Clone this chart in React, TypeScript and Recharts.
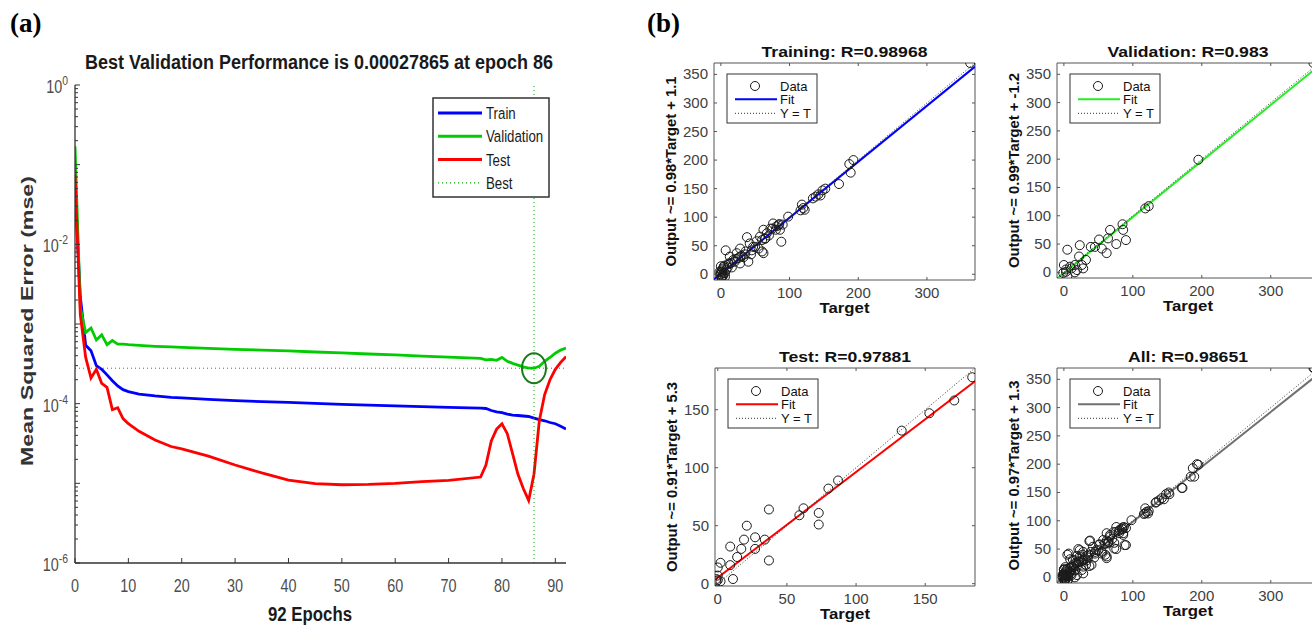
import React from 'react';
import {
  LineChart, Line, XAxis, YAxis, ReferenceLine, ReferenceDot,
  ScatterChart, Scatter, ReferenceArea,
} from 'recharts';

const SANS = "'Liberation Sans', Arial, Helvetica, sans-serif";
const SERIF = "'Liberation Serif', 'Times New Roman', serif";

// ---------------- (a) performance data ----------------
const EPOCHS = [0, 1, 2, 3, 4, 5, 6, 7, 8, 9, 10, 12, 15, 18, 20, 25, 30, 35, 40, 45, 50, 55, 60, 65, 70,
  76, 77, 78, 79, 80, 81, 82, 83, 84, 85, 86, 87, 88, 89, 90, 91, 92];
const TRAIN_MSE = [0.05, 2.2e-3, 5.4e-4, 4.6e-4, 3.0e-4, 2.7e-4, 2.3e-4, 1.94e-4, 1.67e-4, 1.5e-4, 1.42e-4,
  1.32e-4, 1.25e-4, 1.2e-4, 1.18e-4, 1.13e-4, 1.09e-4, 1.06e-4, 1.04e-4, 1.01e-4, 9.8e-5, 9.6e-5, 9.4e-5, 9.2e-5, 9.0e-5,
  8.8e-5, 8.7e-5, 8.2e-5, 7.9e-5, 7.7e-5, 7.4e-5, 7.2e-5, 7.1e-5, 7.0e-5, 6.9e-5, 6.6e-5, 6.3e-5, 6.1e-5, 5.8e-5, 5.6e-5, 5.2e-5, 4.8e-5];
const VALIDATION_MSE = [0.17, 1.6e-3, 7.8e-4, 8.9e-4, 6.3e-4, 7.3e-4, 5.5e-4, 6.2e-4, 5.6e-4, 5.6e-4, 5.5e-4,
  5.4e-4, 5.25e-4, 5.15e-4, 5.1e-4, 4.95e-4, 4.8e-4, 4.7e-4, 4.6e-4, 4.45e-4, 4.35e-4, 4.2e-4, 4.1e-4, 3.95e-4, 3.85e-4,
  3.7e-4, 3.55e-4, 3.6e-4, 3.5e-4, 3.8e-4, 3.4e-4, 3.2e-4, 3.05e-4, 2.9e-4, 2.8e-4, 2.7865e-4, 2.95e-4, 3.4e-4, 3.8e-4, 4.3e-4, 4.7e-4, 5.0e-4];
const TEST_MSE = [0.075, 1.3e-3, 3.8e-4, 2.1e-4, 2.7e-4, 1.8e-4, 1.6e-4, 8.4e-5, 8.9e-5, 6.5e-5, 5.6e-5,
  4.5e-5, 3.5e-5, 2.9e-5, 2.7e-5, 2.2e-5, 1.7e-5, 1.35e-5, 1.1e-5, 9.9e-6, 9.6e-6, 9.7e-6, 1.0e-5, 1.05e-5, 1.09e-5,
  1.2e-5, 1.7e-5, 3.4e-5, 4.8e-5, 5.6e-5, 4.2e-5, 2.35e-5, 1.3e-5, 8.6e-6, 6.1e-6, 1.3e-5, 6.1e-5, 1.3e-4, 2.0e-4, 2.7e-4, 3.3e-4, 3.9e-4];
const BEST_EPOCH = 86;
const BEST_PERF = 0.00027865;
const EPOCH_TICKS = [0, 10, 20, 30, 40, 50, 60, 70, 80, 90];
const MSE_LABEL_EXPONENTS = [-6, -4, -2, 0];

const perfData = EPOCHS.map((epoch, i) => ({
  epoch, train: TRAIN_MSE[i], validation: VALIDATION_MSE[i], test: TEST_MSE[i],
}));

const mseTicks: number[] = [];
for (let k = -6; k <= 0; k++) {
  mseTicks.push(Math.pow(10, k));
  if (k < 0) for (let m = 2; m <= 9; m++) mseTicks.push(m * Math.pow(10, k));
}

// ---------------- (b) regression data: [target, output] ----------------
const TRAINING_POINTS: [number, number][] = [
  [363, 370], [193, 200], [187, 193], [189, 178], [172, 158], [152, 150], [148, 147], [142, 140], [138, 136],
  [134, 133], [145, 138], [118, 122], [120, 116], [122, 113], [116, 112], [98, 101], [86, 78], [88, 57], [76, 89],
  [81, 84], [84, 86], [72, 80], [67, 72], [62, 78], [64, 62], [57, 66], [52, 58], [47, 48], [42, 54], [38, 65],
  [62, 37], [60, 40], [55, 45], [40, 22], [28, 31], [23, 37], [28, 19], [18, 25], [13, 31], [7, 42], [11, 19],
  [4, 13], [1, 7], [-1, -1], [1, -7], [6, 2], [0, 0], [2, 5], [3, 10], [5, 15], [1, -5], [4, 2], [8, 8], [10, 12],
  [12, 18], [15, 20], [20, 22], [25, 28], [30, 32], [35, 35], [45, 42], [50, 48], [60, 60], [65, 63], [70, 68],
  [75, 80], [80, 78], [85, 88], [90, 87], [33, 30], [36, 40], [44, 35], [28, 45], [22, 27], [16, 12], [3, -3],
  [0, 3], [2, -2], [-2, 4], [6, -4], [0, 14],
];
const VALIDATION_POINTS: [number, number][] = [
  [362, 370], [195, 199], [118, 113], [123, 117], [85, 85], [86, 75], [90, 57], [67, 75], [64, 60], [76, 50],
  [62, 34], [55, 42], [51, 58], [45, 45], [39, 45], [23, 48], [5, 40], [22, 28], [32, 22], [26, 13], [16, 0],
  [3, 1], [0, 13], [3, 5], [9, 10], [11, 7], [5, -7], [-1, -1], [16, 13], [19, 4], [28, 7],
];
const TEST_POINTS: [number, number][] = [
  [184, 178], [171, 158], [153, 147], [133, 132], [87, 89], [80, 82], [62, 65], [59, 59], [73, 61], [73, 51],
  [37, 64], [37, 20], [34, 38], [27, 40], [27, 30], [21, 50], [19, 38], [17, 30], [14, 23], [9, 32], [9, 16],
  [11, 4], [2, 18], [0, 14], [0, 7], [-1, 2], [0, 3], [2, 2], [-1, 4],
];
const ALL_POINTS: [number, number][] = [...TRAINING_POINTS, ...VALIDATION_POINTS, ...TEST_POINTS];

const TICKS_0_300 = [0, 100, 200, 300];
const TICKS_0_350 = [0, 50, 100, 150, 200, 250, 300, 350];
const TICKS_0_150 = [0, 50, 100, 150];

type Panel = {
  title: string; titleW: number; ylabel: string; left: number; top: number; w: number; h: number;
  lo: number; hi: number; xTicks: number[]; yTicks: number[]; slope: number; intercept: number;
  color: string; points: [number, number][];
};

const PANELS: Panel[] = [
  { title: 'Training: R=0.98968', titleW: 166, ylabel: 'Output ~= 0.98*Target + 1.1', left: 714, top: 63, w: 261, h: 217,
    lo: -10, hi: 370, xTicks: TICKS_0_300, yTicks: TICKS_0_350, slope: 0.98, intercept: 1.1, color: '#0000ff', points: TRAINING_POINTS },
  { title: 'Validation: R=0.983', titleW: 161, ylabel: 'Output ~= 0.99*Target + -1.2', left: 1057, top: 63, w: 262, h: 215,
    lo: -10, hi: 370, xTicks: TICKS_0_300, yTicks: TICKS_0_350, slope: 0.99, intercept: -1.2, color: '#22ee22', points: VALIDATION_POINTS },
  { title: 'Test: R=0.97881', titleW: 132, ylabel: 'Output ~= 0.91*Target + 5.3', left: 715, top: 368, w: 260, h: 218,
    lo: -2, hi: 186, xTicks: TICKS_0_150, yTicks: TICKS_0_150, slope: 0.91, intercept: 5.3, color: '#ff0000', points: TEST_POINTS },
  { title: 'All: R=0.98651', titleW: 120, ylabel: 'Output ~= 0.97*Target + 1.3', left: 1057, top: 368, w: 262, h: 215,
    lo: -10, hi: 370, xTicks: TICKS_0_300, yTicks: TICKS_0_350, slope: 0.97, intercept: 1.3, color: '#707070', points: ALL_POINTS },
];

// ---------------- (a) ticks ----------------
const ATickX = (props: any) => {
  const { x, y, payload } = props;
  return (
    <g>
      <line x1={x} y1={y} x2={x} y2={y - 5} stroke="#333" strokeWidth={1} />
      <text transform={`translate(${x},${y + 29}) scale(0.8,1)`} textAnchor="middle" fontSize={18}
        fill="#4d4d4d" fontFamily={SANS}>{payload.value}</text>
    </g>
  );
};

const ATickY = (props: any) => {
  const { x, y, payload } = props;
  const e = Math.log10(payload.value);
  const decade = Math.abs(e - Math.round(e)) < 1e-6;
  const exp = Math.round(e);
  const labelled = decade && MSE_LABEL_EXPONENTS.includes(exp);
  return (
    <g>
      <line x1={x} y1={y} x2={x + (decade ? 5 : 3)} y2={y} stroke="#333" strokeWidth={1} />
      {labelled && (
        <text transform={`translate(${x - 7},${y + 8}) scale(0.8,1)`} textAnchor="end" fontSize={18}
          fill="#4d4d4d" fontFamily={SANS}>10<tspan dy={-8} fontSize={13}>{exp}</tspan></text>
      )}
    </g>
  );
};

const BestCircle = (p: any) => (
  <ellipse cx={p.cx} cy={p.cy} rx={12} ry={15} fill="none" stroke="#1b7a1b" strokeWidth={2} />
);

const DataCircle = (p: any) => (
  <circle cx={p.cx} cy={p.cy} r={4.5} fill="none" stroke="#1a1a1a" strokeWidth={1} />
);

function RegPlot({ panel }: { panel: Panel }) {
  const { left, top, w, h, lo, hi, xTicks, yTicks, points, slope, intercept, color } = panel;
  const ML = 50, MT = 10;
  const data = points.map(([x, y]) => ({ x, y }));
  const XT = (p: any) => {
    const { x, y, payload } = p;
    return (
      <g>
        <line x1={x} y1={y} x2={x} y2={y - 3} stroke="#555" />
        <line x1={x} y1={y - h} x2={x} y2={y - h + 3} stroke="#555" />
        <text x={x} y={y + 18} textAnchor="middle" fontSize={15} fill="#404040" fontFamily={SANS}>{payload.value}</text>
      </g>
    );
  };
  const YT = (p: any) => {
    const { x, y, payload } = p;
    return (
      <g>
        <line x1={x} y1={y} x2={x + 3} y2={y} stroke="#555" />
        <line x1={x + w} y1={y} x2={x + w - 3} y2={y} stroke="#555" />
        <text x={x - 6} y={y + 5} textAnchor="end" fontSize={15} fill="#404040" fontFamily={SANS}>{payload.value}</text>
      </g>
    );
  };
  return (
    <div style={{ position: 'absolute', left: left - ML, top: top - MT }}>
      <ScatterChart width={w + ML + 10} height={h + MT + 40} margin={{ top: MT, right: 10, bottom: 10, left: 20 }}>
        <XAxis type="number" dataKey="x" domain={[lo, hi]} ticks={xTicks} tick={XT} tickLine={false}
          axisLine={false} tickSize={0} tickMargin={0} height={30} interval={0} allowDataOverflow />
        <YAxis type="number" dataKey="y" domain={[lo, hi]} ticks={yTicks} tick={YT} tickLine={false}
          axisLine={false} tickSize={0} tickMargin={0} width={30} interval={0} allowDataOverflow />
        <ReferenceArea x1={lo} x2={hi} y1={lo} y2={hi} fill="none" fillOpacity={0} stroke="#555" strokeWidth={1} ifOverflow="visible" />
        <Scatter data={data} shape={DataCircle} isAnimationActive={false} />
        <ReferenceLine segment={[{ x: lo, y: slope * lo + intercept }, { x: hi, y: slope * hi + intercept }]}
          stroke={color} strokeWidth={2} ifOverflow="hidden" />
        <ReferenceLine segment={[{ x: lo, y: lo }, { x: hi, y: hi }]} stroke="#333" strokeWidth={1}
          strokeDasharray="1 2" ifOverflow="hidden" />
      </ScatterChart>
    </div>
  );
}

const A_LEGEND = [
  { label: 'Train', color: '#0000ff', dotted: false },
  { label: 'Validation', color: '#00cc00', dotted: false },
  { label: 'Test', color: '#ff0000', dotted: false },
  { label: 'Best', color: '#00aa00', dotted: true },
];

export default function App() {
  return (
    <div style={{ position: 'fixed', left: 0, top: 0, width: 1312, height: 626, overflow: 'hidden', background: '#fff' }}>
      <div style={{ position: 'absolute', left: 0, top: 0 }}>
        <LineChart width={640} height={626} data={perfData} margin={{ top: 85, right: 74, bottom: 33, left: 45 }}>
          <XAxis type="number" dataKey="epoch" domain={[0, 92]} ticks={EPOCH_TICKS} tick={ATickX} tickLine={false}
            tickSize={0} tickMargin={0} height={30} interval={0} axisLine={{ stroke: '#333', strokeWidth: 1.3 }} allowDataOverflow />
          <YAxis type="number" scale="log" domain={[1e-6, 1]} ticks={mseTicks} tick={ATickY} tickLine={false}
            tickSize={0} tickMargin={0} width={30} interval={0} axisLine={{ stroke: '#333', strokeWidth: 1.3 }} allowDataOverflow />
          <Line type="linear" dataKey="train" stroke="#0000ff" strokeWidth={2.8} dot={false} isAnimationActive={false} />
          <Line type="linear" dataKey="validation" stroke="#00cc00" strokeWidth={2.8} dot={false} isAnimationActive={false} />
          <Line type="linear" dataKey="test" stroke="#ff0000" strokeWidth={2.8} dot={false} isAnimationActive={false} />
          <ReferenceLine x={BEST_EPOCH} stroke="#00aa00" strokeWidth={1} strokeDasharray="1 3" />
          <ReferenceLine y={BEST_PERF} stroke="#00aa00" strokeWidth={1} strokeDasharray="1 3" />
          <ReferenceDot x={BEST_EPOCH} y={BEST_PERF} r={12} shape={BestCircle} ifOverflow="visible" />
        </LineChart>
      </div>

      {PANELS.map((p) => <RegPlot key={p.title} panel={p} />)}

      <svg width={1312} height={626} style={{ position: 'absolute', left: 0, top: 0, pointerEvents: 'none' }}>
        <text x={10} y={32} fontFamily={SERIF} fontWeight="bold" fontSize={27} fill="#000">(a)</text>
        <text x={647} y={32} fontFamily={SERIF} fontWeight="bold" fontSize={27} fill="#000">(b)</text>

        <text x={319} y={69} textAnchor="middle" fontFamily={SANS} fontWeight="bold" fontSize={20} fill="#1a1a1a"
          textLength={468} lengthAdjust="spacingAndGlyphs">Best Validation Performance is 0.00027865 at epoch 86</text>
        <text transform="translate(33,321) scale(0.8,1) rotate(-90)" textAnchor="middle" fontFamily={SANS}
          fontWeight="bold" fontSize={21} fill="#333" textLength={290} lengthAdjust="spacingAndGlyphs">Mean Squared Error  (mse)</text>
        <text transform="translate(310,621) scale(0.8,1)" textAnchor="middle" fontFamily={SANS} fontWeight="bold"
          fontSize={21} fill="#1a1a1a">92 Epochs</text>

        <rect x={433} y={98} width={116} height={99} fill="#fff" stroke="#333" strokeWidth={1.5} />
        {A_LEGEND.map((r, i) => {
          const y = 113 + i * 23.3;
          return (
            <g key={r.label}>
              <line x1={438} y1={y} x2={482} y2={y} stroke={r.color} strokeWidth={r.dotted ? 1.2 : 3}
                strokeDasharray={r.dotted ? '1 3' : undefined} />
              <text transform={`translate(486,${y + 6}) scale(0.78,1)`} fontFamily={SANS} fontSize={17} fill="#1a1a1a">{r.label}</text>
            </g>
          );
        })}

        {PANELS.map((p) => {
          const cx = p.left + p.w / 2;
          const cy = p.top + p.h / 2;
          const lx = p.left + 13;
          const ly = p.top + 11;
          return (
            <g key={p.title}>
              <text x={cx} y={p.top - 6} textAnchor="middle" fontFamily={SANS} fontWeight="bold" fontSize={15.5} fill="#111"
                textLength={p.titleW} lengthAdjust="spacingAndGlyphs">{p.title}</text>
              <text transform={`translate(${p.left - 38},${cy}) rotate(-90)`} textAnchor="middle" fontFamily={SANS}
                fontWeight="bold" fontSize={14.8} fill="#111">{p.ylabel}</text>
              <text x={cx} y={p.top + p.h + 33} textAnchor="middle" fontFamily={SANS} fontWeight="bold" fontSize={15.5} fill="#111"
                textLength={50} lengthAdjust="spacingAndGlyphs">Target</text>
              <rect x={lx} y={ly} width={90} height={49} fill="#fff" stroke="#333" strokeWidth={1} />
              <circle cx={lx + 28} cy={ly + 12} r={4.5} fill="none" stroke="#1a1a1a" strokeWidth={1} />
              <text x={lx + 53} y={ly + 16.5} fontFamily={SANS} fontSize={13} fill="#111">Data</text>
              <line x1={lx + 8} y1={ly + 25.3} x2={lx + 50} y2={ly + 25.3} stroke={p.color} strokeWidth={2} />
              <text x={lx + 53} y={ly + 30} fontFamily={SANS} fontSize={13} fill="#111">Fit</text>
              <line x1={lx + 8} y1={ly + 39.3} x2={lx + 50} y2={ly + 39.3} stroke="#333" strokeWidth={1} strokeDasharray="1 2" />
              <text x={lx + 53} y={ly + 44} fontFamily={SANS} fontSize={13} fill="#111">Y = T</text>
            </g>
          );
        })}
      </svg>
    </div>
  );
}
